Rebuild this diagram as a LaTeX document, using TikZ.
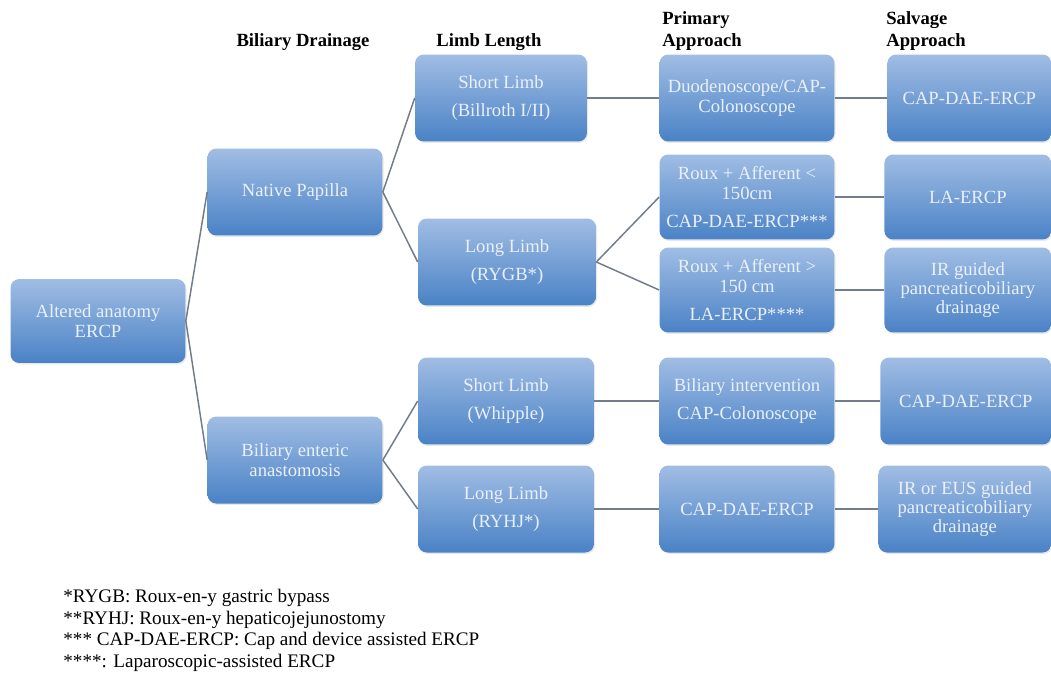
\documentclass[tikz,border=0pt]{standalone}
\usepackage{fontspec}
\setmainfont{Liberation Serif}
\usepackage{tikz}
\usetikzlibrary{positioning,shadows}
\definecolor{ERCPTop}{HTML}{A0BDE4}
\definecolor{ERCPBottom}{HTML}{4A82C6}
\definecolor{ERCPText}{HTML}{EAF0F8}
\definecolor{ERCPLine}{HTML}{737D8A}
\tikzset{
  flow/.style={
    rounded corners=5pt,
    top color=ERCPTop,
    bottom color=ERCPBottom,
    draw=none,
    text=ERCPText,
    align=center,
    minimum width=3.5cm,
    minimum height=1.74cm,
    inner sep=1pt,
    font=\fontsize{10.6}{11}\selectfont,
    drop shadow={opacity=.18,shadow xshift=.6pt,shadow yshift=-.8pt}
  },
  salvage/.style={flow,anchor=west},
  heading/.style={font=\fontsize{10.6}{12.5}\selectfont\bfseries,align=left,inner sep=0pt},
  link/.style={draw=ERCPLine,line width=.85pt}
}

\begin{document}
\begin{tikzpicture}[x=0.02cm,y=-0.02cm]
  \useasboundingbox (0,0) rectangle (1051,673);

  \node[heading,anchor=center] (hb) at (303,42) {Biliary Drainage};
  \node[heading,anchor=center] (hl) at (489,42) {Limb Length};
  \node[heading,anchor=west] (hp) at (662,31) {Primary\\Approach};
  \node[heading,anchor=west] (hs) at (886,31) {Salvage\\Approach};

  \node[flow,minimum height=1.68cm] (root) at (98,321) {Altered anatomy\\ERCP};
  \node[flow] (np) at (295,192) {Native Papilla};
  \node[flow] (be) at (295,460) {Biliary enteric\\anastomosis};

  \node[flow,minimum width=3.44cm] (sb) at (501,98) {Short Limb\\[5pt](Billroth I/II)};
  \node[flow,minimum width=3.56cm] (lb) at (507,262) {Long Limb\\[5pt](RYGB*)};
  \node[flow,minimum width=3.52cm] (sw) at (506,401) {Short Limb\\[5pt](Whipple)};
  \node[flow,minimum width=3.52cm] (lr) at (506,509) {Long Limb\\[5pt](RYHJ*)};

  \node[flow] (pd) at (747,98) {Duodenoscope/CAP-\\Colonoscope};
  \node[flow,minimum height=1.7cm] (pr1) at (747,197) {Roux + Afferent <\\150cm\\[5pt]CAP-DAE-ERCP***};
  \node[flow,minimum height=1.7cm] (pr2) at (747,290) {Roux + Afferent >\\150 cm\\[5pt]LA-ERCP****};
  \node[flow] (pb) at (747,401) {Biliary intervention\\[5pt]CAP-Colonoscope};
  \node[flow] (pc) at (747,509) {CAP-DAE-ERCP};

  \node[salvage,minimum width=3.28cm] (s1) at (887,98) {CAP-DAE-ERCP};
  \node[salvage,minimum width=3.34cm,minimum height=1.7cm] (s2) at (884,197) {LA-ERCP};
  \node[salvage,minimum width=3.34cm,minimum height=1.7cm] (s3) at (884,290) {IR guided\\pancreaticobiliary\\drainage};
  \node[salvage,minimum width=3.42cm] (s4) at (880,401) {CAP-DAE-ERCP};
  \node[salvage,minimum width=3.46cm] (s5) at (878,509) {IR or EUS guided\\pancreaticobiliary\\drainage};

  \draw[link] (root.east) -- (np.west);
  \draw[link] (root.east) -- (be.west);
  \draw[link] (np.east) -- (sb.west);
  \draw[link] (np.east) -- (lb.west);
  \draw[link] (be.east) -- (sw.west);
  \draw[link] (be.east) -- (lr.west);
  \draw[link] (sb.east) -- (pd.west);
  \draw[link] (lb.east) -- (pr1.west);
  \draw[link] (lb.east) -- (pr2.west);
  \draw[link] (sw.east) -- (pb.west);
  \draw[link] (lr.east) -- (pc.west);
  \draw[link] (pd.east) -- (s1.west);
  \draw[link] (pr1.east) -- (s2.west);
  \draw[link] (pr2.east) -- (s3.west);
  \draw[link] (pb.east) -- (s4.west);
  \draw[link] (pc.east) -- (s5.west);

  \node[anchor=north west,align=left,inner sep=0pt,font=\fontsize{10.9}{12.3}\selectfont] (notes) at (63,589)
    {*RYGB: Roux-en-y gastric bypass\\
     **RYHJ: Roux-en-y hepaticojejunostomy\\
     *** CAP-DAE-ERCP: Cap and device assisted ERCP\\
     ****: Laparoscopic-assisted ERCP};
\end{tikzpicture}
\end{document}
